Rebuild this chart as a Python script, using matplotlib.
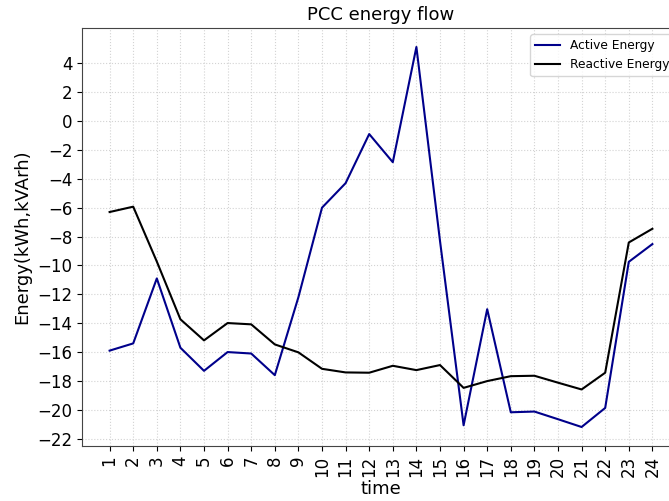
import numpy as np
import matplotlib
matplotlib.use('Agg')
import matplotlib.pyplot as plt

# hours of the day
hours = list(range(1, 25))
# PCC energy
active_energy = [-15.9, -15.4, -10.9, -15.7, -17.3, -16.0, -16.1, -17.6,
                 -12.2, -6.0, -4.3, -0.9, -2.85, 5.13, -8.3, -21.07,
                 -13.03, -20.17, -20.12, -20.65, -21.19, -19.87, -9.75, -8.52]
reactive_energy = [-6.3, -5.93, -9.73, -13.73, -15.19, -13.99, -14.08, -15.47,
                   -16.02, -17.16, -17.41, -17.43, -16.95, -17.25, -16.9, -18.48,
                   -18.01, -17.67, -17.64, -18.12, -18.59, -17.43, -8.41, -7.46]
yticks = list(range(-22, 5, 2))


def plot_figure():
    fig = plt.figure(figsize=(6.69, 5.01), dpi=100)
    ax = fig.add_axes([82 / 669, 55 / 501, 598 / 669, 418 / 501])
    ax.plot(hours, active_energy, color='darkblue', lw=1.5, label='Active Energy')
    ax.plot(hours, reactive_energy, color='black', lw=1.5, label='Reactive Energy')
    ax.set_xticks(hours)
    ax.set_xticklabels([str(h) for h in hours], rotation=90)
    ax.set_yticks(yticks)
    ax.set_xlim(-0.17, 25.17)
    ax.tick_params(labelsize=12)
    ax.grid(True, ls=':', color='lightgrey', lw=0.8)
    for s in ax.spines.values():
        s.set_color('#444444')
    ax.set_xlabel('time', fontsize=13, labelpad=2)
    ax.set_ylabel('Energy(kWh,kVArh)', fontsize=13)
    ax.set_title('PCC energy flow', fontsize=13)
    ax.legend(loc='upper right', fontsize=8.8)
    fig.savefig('out.png', dpi=100)


if __name__ == "__main__":
    plot_figure()
